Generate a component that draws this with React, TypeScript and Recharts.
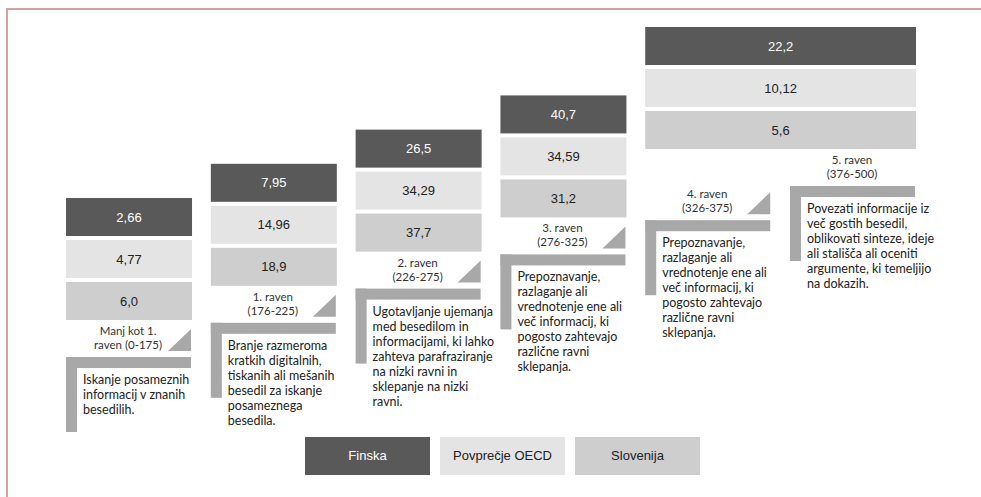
import React from 'react';
import { ComposedChart, Scatter, XAxis, YAxis, Legend } from 'recharts';

// PISA reading levels (step order, left to right)
const levelNames = [
  ['Manj kot 1.', 'raven (0-175)'],
  ['1.  raven', '(176-225)'],
  ['2. raven', '(226-275)'],
  ['3. raven', '(276-325)'],
  ['4. raven', '(326-375)'],
  ['5. raven', '(376-500)'],
];

const levelTexts = [
  ['Iskanje posameznih', 'informacij v znanih', 'besedilih.'],
  ['Branje razmeroma', 'kratkih digitalnih,', 'tiskanih ali mešanih', 'besedil za iskanje', 'posameznega', 'besedila.'],
  ['Ugotavljanje ujemanja', 'med besedilom in', 'informacijami, ki lahko', 'zahteva parafraziranje', 'na nizki ravni in', 'sklepanje na nizki', 'ravni.'],
  ['Prepoznavanje,', 'razlaganje ali', 'vrednotenje ene ali', 'več informacij, ki', 'pogosto zahtevajo', 'različne ravni', 'sklepanja.'],
  ['Prepoznavanje,', 'razlaganje ali', 'vrednotenje ene ali', 'več informacij, ki', 'pogosto zahtevajo', 'različne ravni', 'sklepanja.'],
  ['Povezati informacije iz', 'več gostih besedil,', 'oblikovati sinteze, ideje', 'ali stališča ali oceniti', 'argumente, ki temeljijo', 'na dokazih.'],
];

// value groups: first and last level each group covers
const groupStart = [0, 1, 2, 3, 4];
const groupEnd = [0, 1, 2, 3, 5];

const finska = [2.66, 7.95, 26.5, 40.7, 22.2];
const oecd = [4.77, 14.96, 34.29, 34.59, 10.12];
const slovenija = [6.0, 18.9, 37.7, 31.2, 5.6];

const W = 981;
const H = 497;
const X_MIN = -0.456;
const X_MAX = 6.319;
const Y_MIN = -4.093;
const Y_MAX = 10.439;
const STEP = W / (X_MAX - X_MIN);

const BOX_W = 126;
const ROW_H = 38;
const ROW_GAP = 4;
const STACK_GAP = 37;

const DARK = '#595959';
const LIGHT = '#e4e4e4';
const MID = '#cecece';
const BAR = '#a8a8a8';
const NUM_FONT = '"Liberation Sans", Arial, sans-serif';
const TXT_FONT = 'Lato, "Open Sans", sans-serif';

const fmt = (v: number) => {
  const s = String(v);
  return (s.includes('.') ? s : s + '.0').replace('.', ',');
};

const levelData = levelNames.map((name, i) => ({
  x: i,
  y: i,
  name,
  text: levelTexts[i],
  last: i === levelNames.length - 1,
}));

const makeGroups = (values: number[]) =>
  groupStart.map((s, i) => ({ x: s, y: groupEnd[i], end: groupEnd[i], value: values[i] }));

const series = [
  { name: 'Finska', values: finska, fill: DARK, text: '#ffffff' },
  { name: 'Povprečje OECD', values: oecd, fill: LIGHT, text: '#222222' },
  { name: 'Slovenija', values: slovenija, fill: MID, text: '#222222' },
];

const LevelShape = (props: any) => {
  const { cx, cy, payload } = props;
  if (cx == null || cy == null) return null;
  const right = cx + BOX_W - 1;
  const mid = cx + 62;
  return (
    <g>
      <text x={mid} y={cy - 22} textAnchor="middle" fontFamily={TXT_FONT} fontSize={11.5} fill="#333">
        {payload.name[0]}
      </text>
      <text x={mid} y={cy - 8} textAnchor="middle" fontFamily={TXT_FONT} fontSize={11.5} fill="#333">
        {payload.name[1]}
      </text>
      {!payload.last && (
        <polygon
          points={`${right},${cy - 28} ${right},${cy - 6} ${right - 23},${cy - 6}`}
          fill={BAR}
        />
      )}
      <rect x={cx} y={cy} width={BOX_W - 1} height={11} fill={BAR} />
      <rect x={cx} y={cy} width={11} height={75} fill={BAR} />
      {payload.text.map((line: string, k: number) => (
        <text
          key={k}
          x={cx + 17}
          y={cy + 27 + k * 15}
          fontFamily={TXT_FONT}
          fontSize={12.5}
          fill="#222"
        >
          {line}
        </text>
      ))}
    </g>
  );
};

const makeBoxShape = (row: number, fill: string, color: string) => (props: any) => {
  const { cx, cy, payload } = props;
  if (cx == null || cy == null) return null;
  const width = BOX_W + (payload.end - payload.x) * STEP;
  const top = cy - STACK_GAP - 3 * ROW_H - 2 * ROW_GAP + row * (ROW_H + ROW_GAP);
  return (
    <g>
      <rect x={cx} y={top} width={width} height={ROW_H} fill={fill} />
      <text
        x={cx + width / 2}
        y={top + ROW_H / 2 + 4.5}
        textAnchor="middle"
        fontFamily={NUM_FONT}
        fontSize={13}
        fill={color}
      >
        {fmt(payload.value)}
      </text>
    </g>
  );
};

const LegendBoxes = (props: any) => {
  const items = series.filter((s) =>
    (props.payload || []).some((entry: any) => entry.value === s.name)
  );
  return (
    <div style={{ display: 'flex', gap: 10 }}>
      {items.map((s) => (
        <div
          key={s.name}
          style={{
            width: 125,
            height: 38,
            lineHeight: '38px',
            textAlign: 'center',
            background: s.fill,
            color: s.text,
            fontFamily: NUM_FONT,
            fontSize: 13,
          }}
        >
          {s.name}
        </div>
      ))}
    </div>
  );
};

export default function App() {
  return (
    <div style={{ position: 'absolute', left: 0, top: 0, width: W, height: H, background: '#fff' }}>
      <div
        style={{
          position: 'absolute',
          left: 6,
          top: 8,
          right: 0,
          bottom: 0,
          borderLeft: '2px solid #d4a0a0',
          borderTop: '2px solid #d4a0a0',
        }}
      />
      <ComposedChart width={W} height={H} margin={{ top: 0, right: 0, bottom: 0, left: 0 }}>
        <XAxis type="number" dataKey="x" domain={[X_MIN, X_MAX]} allowDataOverflow hide />
        <YAxis type="number" dataKey="y" domain={[Y_MIN, Y_MAX]} allowDataOverflow hide />
        <Scatter
          name="levels"
          data={levelData}
          shape={LevelShape}
          legendType="none"
          isAnimationActive={false}
        />
        {series.map((s, row) => (
          <Scatter
            key={s.name}
            name={s.name}
            data={makeGroups(s.values)}
            fill={s.fill}
            shape={makeBoxShape(row, s.fill, s.text)}
            isAnimationActive={false}
          />
        ))}
        <Legend
          layout="horizontal"
          verticalAlign="middle"
          align="center"
          content={LegendBoxes}
          wrapperStyle={{ left: 305, top: 437, width: 'auto', height: 38 }}
        />
      </ComposedChart>
    </div>
  );
}
